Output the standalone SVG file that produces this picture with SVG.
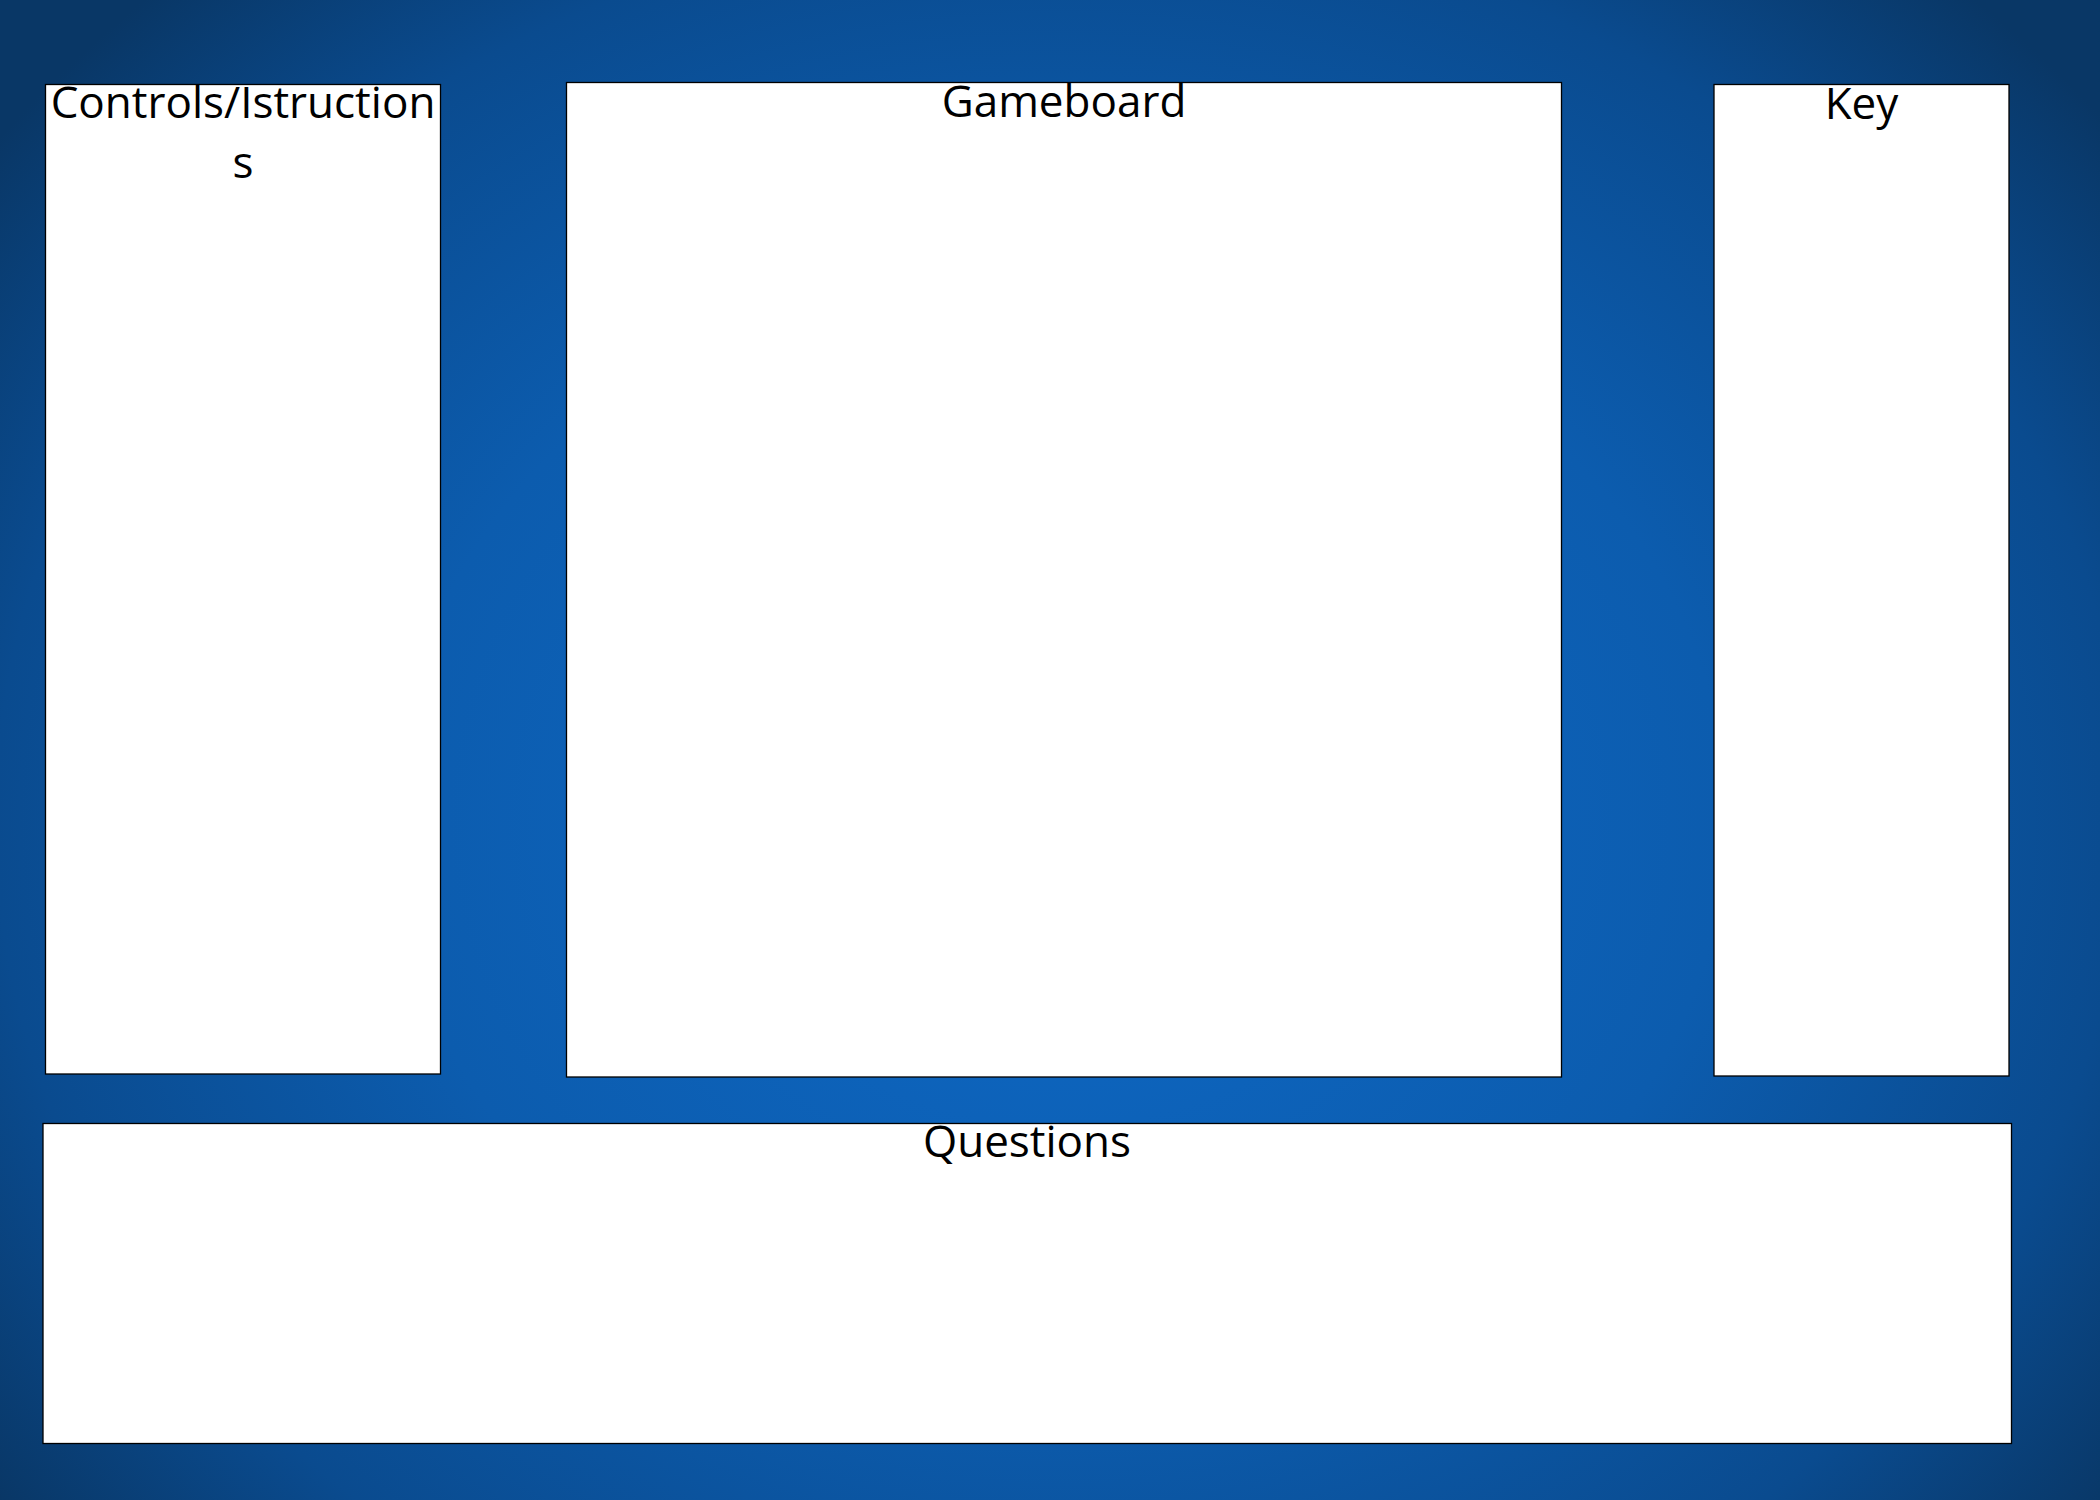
<svg xmlns="http://www.w3.org/2000/svg" width="2100" height="1500" viewBox="0 0 2100 1500">
<defs>
<radialGradient id="bg" gradientUnits="userSpaceOnUse" cx="1060" cy="820" r="1330" gradientTransform="translate(1060 820) scale(1 0.85) translate(-1060 -820)">
<stop offset="0" stop-color="#0e69c6"/>
<stop offset="0.5" stop-color="#0c5cae"/>
<stop offset="0.8" stop-color="#0a4b8f"/>
<stop offset="1" stop-color="#093766"/>
</radialGradient>
<style>
.box{fill:#ffffff;stroke:#000000;stroke-width:1.3}
.lbl{font-family:"Open Sans","Noto Sans",sans-serif;font-size:44px;fill:#000000;text-anchor:middle}
</style>
</defs>
<rect x="0" y="0" width="2100" height="1500" fill="url(#bg)"/>
<g id="controls">
<rect class="box" x="45.5" y="84.5" width="395" height="989.5"/>
<text class="lbl" x="243" y="118">Controls/Istruction</text>
<text class="lbl" x="243" y="178">s</text>
</g>
<g id="gameboard">
<rect class="box" x="566.5" y="82.5" width="995" height="994.5"/>
<text class="lbl" x="1064" y="117">Gameboard</text>
</g>
<g id="key">
<rect class="box" x="1714" y="84.5" width="295" height="991.5"/>
<text class="lbl" x="1861.5" y="119">Key</text>
</g>
<g id="questions">
<rect class="box" x="43" y="1123.5" width="1968.5" height="320"/>
<text class="lbl" x="1027" y="1157">Questions</text>
</g>
<g id="connectors"/>
</svg>
